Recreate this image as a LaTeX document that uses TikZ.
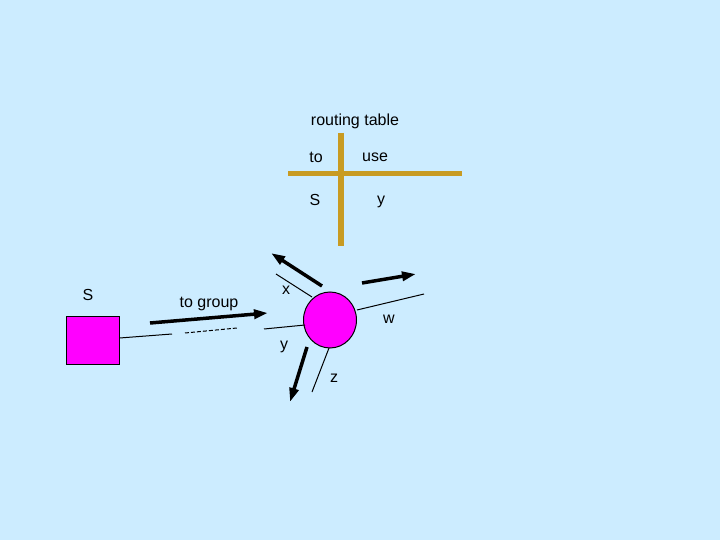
\documentclass[tikz,border=0pt]{standalone}
\usepackage{fontspec}
\setmainfont{Liberation Sans}
\usetikzlibrary{arrows.meta,shapes.geometric}
\definecolor{bg}{HTML}{CCECFF}
\definecolor{gold}{HTML}{C89B22}
\definecolor{mag}{HTML}{FF00FF}
\begin{document}
\begin{tikzpicture}[x=1pt,y=-1pt,
  lbl/.style={font=\fontsize{16}{18}\selectfont, inner sep=0pt},
  thin/.style={line width=1pt},
  big/.style={line width=3.5pt,-{Triangle[length=14pt,width=9pt]}}]
\fill[bg] (0,0) rectangle (720,540);
\useasboundingbox (0,0) rectangle (720,540);
% routing table
\node[lbl] (rt) at (355,121) {routing table};
\node[lbl] (to) at (316,157) {to};
\node[lbl] (use) at (375,157) {use};
\node[lbl] (ts) at (315,200) {S};
\node[lbl] (ty) at (381,202) {y};
\coordinate (h1) at (288,174); \coordinate (h2) at (462,174);
\coordinate (v1) at (341,133); \coordinate (v2) at (341,246);
\draw[gold,line width=5pt] (h1) -- (h2);
\draw[gold,line width=6pt] (v1) -- (v2);
% source
\node[draw=black,thin,fill=mag,minimum width=53pt,minimum height=48pt,inner sep=0pt] (sq) at (92.5,340) {};
\node[lbl] (sl) at (88,295) {S};
% router
\node[draw=black,thin,fill=mag,ellipse,minimum width=53pt,minimum height=56pt,inner sep=0pt] (r) at (330,320) {};
% links
\coordinate (a1) at (172,334);
\draw[thin] (sq.east|-0,338) -- (a1);
\coordinate (d1) at (185,333); \coordinate (d2) at (237,328);
\draw[thin,dash pattern=on 4pt off 2pt] (d1) -- (d2);
\coordinate (yl) at (264,329);
\draw[thin] (yl) -- (305,325);
\coordinate (xl) at (276,274);
\draw[thin] (xl) -- (312,297);
\coordinate (wl) at (424,294);
\draw[thin] (357,310) -- (wl);
\coordinate (zl) at (312,392);
\draw[thin] (329,348) -- (zl);
% arrows
\coordinate (g1) at (150,323); \coordinate (g2) at (268,313);
\draw[big] (g1) -- (g2);
\coordinate (x1) at (322,286); \coordinate (x2) at (271,253);
\draw[big] (x1) -- (x2);
\coordinate (w1) at (362,283); \coordinate (w2) at (416,274);
\draw[big] (w1) -- (w2);
\coordinate (z1) at (307,347); \coordinate (z2) at (290,402);
\draw[big] (z1) -- (z2);
% labels
\node[lbl] (lg) at (209,304) {to group};
\node[lbl] (lx) at (286,290) {x};
\node[lbl] (lw) at (389,319) {w};
\node[lbl] (ly) at (284,347) {y};
\node[lbl] (lz) at (334,378) {z};
\end{tikzpicture}
\end{document}
